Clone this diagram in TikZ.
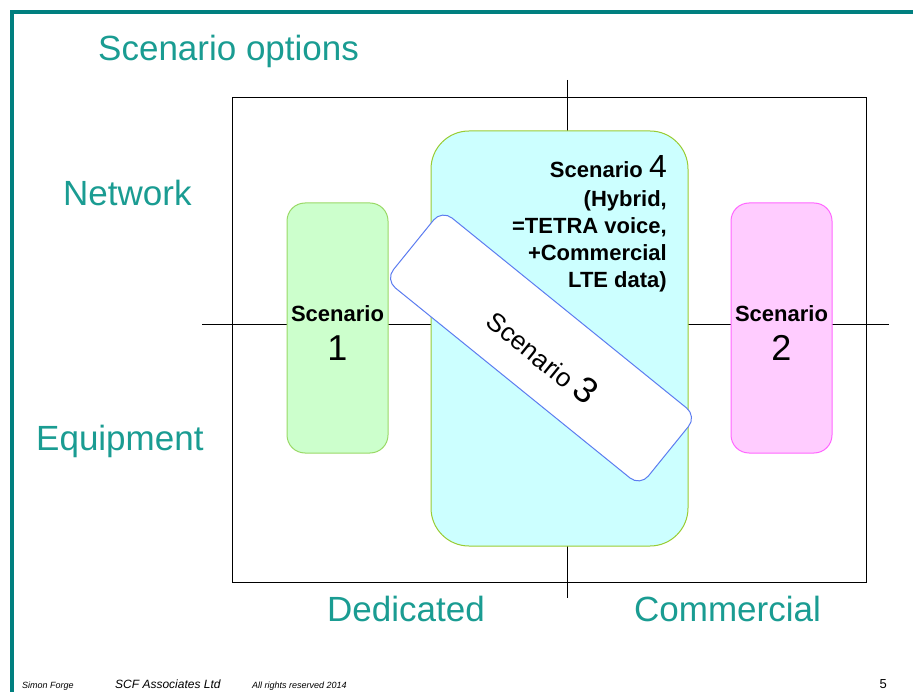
\documentclass[tikz,border=0pt]{standalone}
\usepackage{fontspec}
\setmainfont{Liberation Sans}
\definecolor{frameteal}{HTML}{007F7F}
\definecolor{labelteal}{HTML}{1A9C92}
\definecolor{onefill}{HTML}{CCFFCC}
\definecolor{oneline}{HTML}{99D966}
\definecolor{twofill}{HTML}{FFCCFF}
\definecolor{twoline}{HTML}{FF66FF}
\definecolor{fourfill}{HTML}{CCFFFF}
\definecolor{fourline}{HTML}{99CC33}
\definecolor{threeline}{HTML}{5C7CF0}
\begin{document}
\begin{tikzpicture}[x=1pt, y=-1pt,
  scenbox/.style={draw, line width=1pt, rounded corners=18pt, inner sep=0pt},
  scentext/.style={align=center, inner sep=0pt, font=\bfseries\fontsize{22}{27}\selectfont},
  teallabel/.style={text=labelteal, anchor=base west, inner sep=0pt, font=\fontsize{35}{40}\selectfont},
  footer/.style={anchor=base west, inner sep=0pt, font=\itshape\fontsize{9}{10}\selectfont}]
\useasboundingbox (0,0) rectangle (913,692);
% frame of the slide
\draw[frameteal, line width=4pt] (12,692) -- (12,12) -- (913,12);
\node[teallabel] (title) at (98,61) {Scenario options};
% quadrant chart
\draw[line width=0.8pt] (232,97) rectangle (866,582);
\coordinate (ytop) at (567,80);
\coordinate (ybot) at (567,598);
\coordinate (xleft) at (202,324);
\coordinate (xright) at (889,324);
\draw[line width=0.8pt] (ytop) -- (ybot);
\draw[line width=0.8pt] (xleft) -- (xright);
\node[teallabel] (network) at (63,206) {Network};
\node[teallabel] (equipment) at (36,450) {Equipment};
\node[teallabel] (dedicated) at (327,621) {Dedicated};
\node[teallabel] (commercial) at (634,621) {Commercial};
% scenarios
\node[scenbox, fill=onefill, draw=oneline, minimum width=101pt, minimum height=250pt] (s1) at (337.5,328) {};
\node[scentext] (s1text) at ([yshift=-5pt]s1.center) {Scenario\\[12pt]{\mdseries\fontsize{36}{36}\selectfont 1}};
\node[scenbox, fill=twofill, draw=twoline, minimum width=101pt, minimum height=250pt] (s2) at (781.5,328) {};
\node[scentext] (s2text) at ([yshift=-5pt]s2.center) {Scenario\\[12pt]{\mdseries\fontsize{36}{36}\selectfont 2}};
\node[scenbox, fill=fourfill, draw=fourline, rounded corners=38pt, minimum width=257pt, minimum height=415pt] (s4) at (559.5,338.5) {};
\node[scentext, anchor=north east, align=right] (s4text) at (667,155)
  {Scenario {\mdseries\fontsize{32}{32}\selectfont 4}\\[2pt](Hybrid,\\=TETRA voice,\hspace*{6pt}\\+Commercial\hspace*{8pt}\\LTE data)};
\node[scenbox, fill=white, draw=threeline, rounded corners=13pt, minimum width=328pt, minimum height=90pt, rotate=-39] (s3) at (541,348) {};
\node[scentext, rotate=-39, font=\fontsize{26}{30}\selectfont] (s3text) at (543,356) {Scenario {\fontsize{36}{36}\selectfont 3}};
% footer
\node[footer] (author) at (22,688) {Simon Forge};
\node[footer, font=\itshape\fontsize{12}{13}\selectfont] (company) at (115,688) {SCF Associates Ltd};
\node[footer] (rights) at (252,688) {All rights reserved 2014};
\node[anchor=base east, inner sep=0pt, font=\fontsize{13}{14}\selectfont] (page) at (887,688) {5};
\end{tikzpicture}
\end{document}
